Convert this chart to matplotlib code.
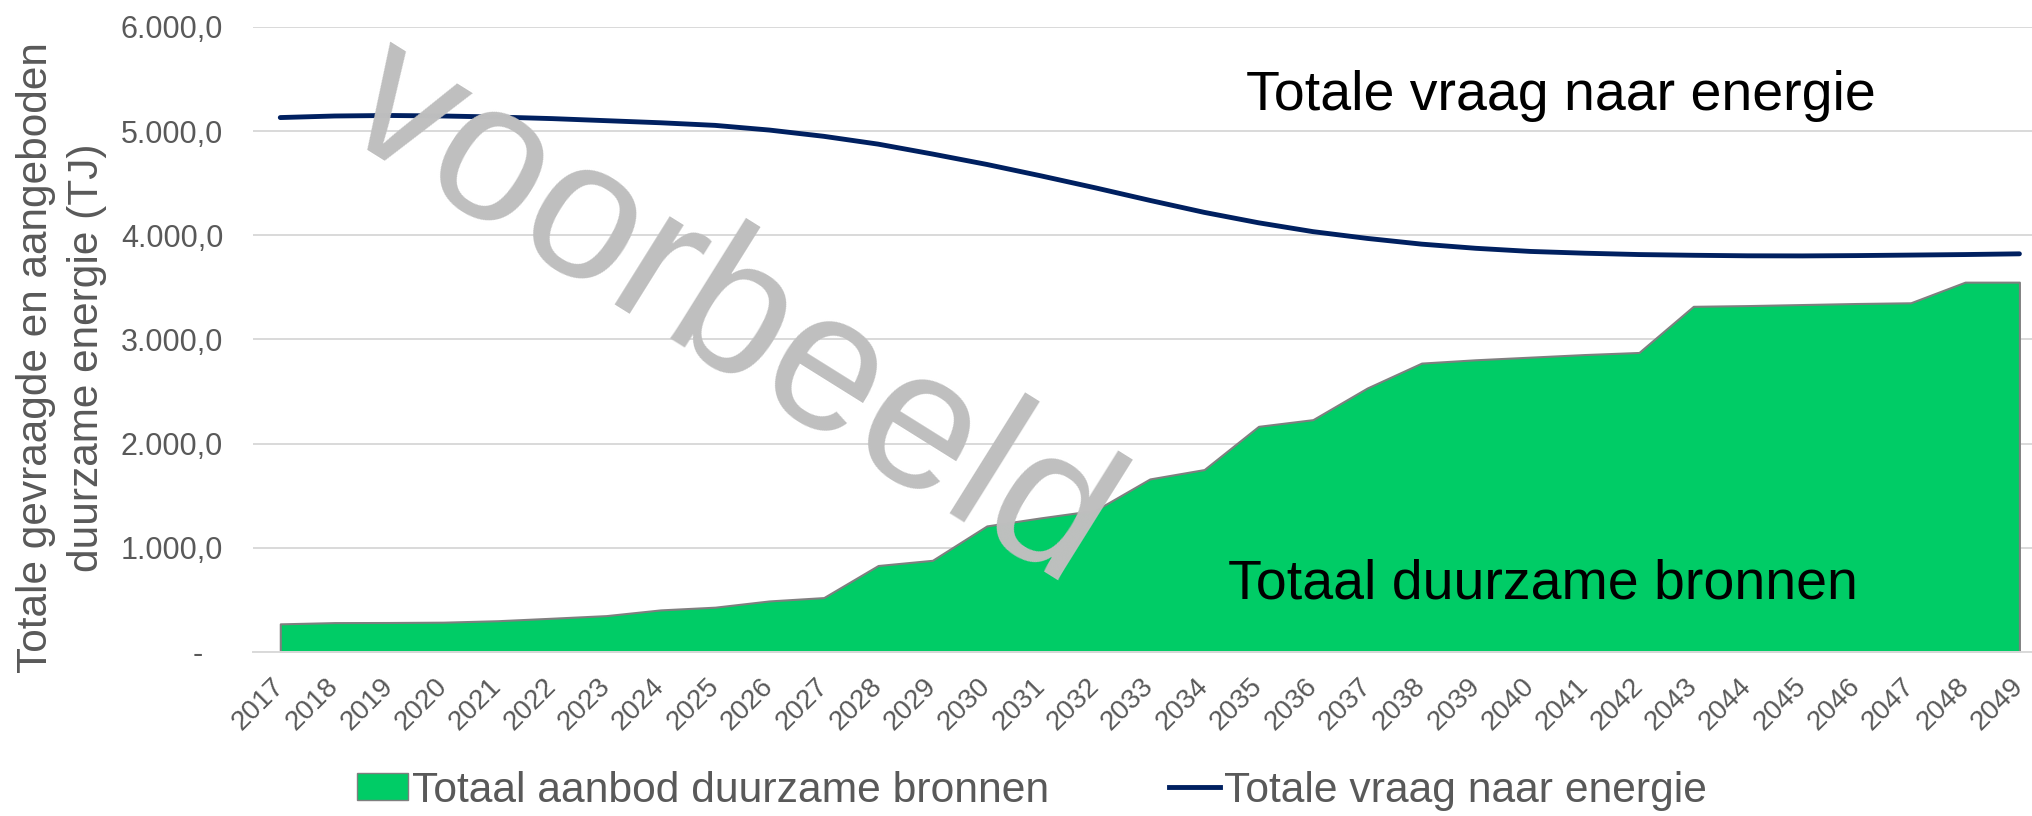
import matplotlib
matplotlib.use("Agg")
import matplotlib.pyplot as plt
import matplotlib.transforms as mtransforms
from matplotlib.patches import Patch
from matplotlib.lines import Line2D

plt.rcParams['font.family'] = ['Liberation Sans', 'DejaVu Sans']

# jaren op de x-as
years = list(range(2017, 2050))

# totaal aanbod duurzame bronnen (TJ)
supply = [270, 282, 283, 286, 300, 324, 349, 404, 430, 490, 522,
          830, 880, 1210, 1288, 1360, 1661, 1751, 2166, 2230, 2534,
          2773, 2805, 2830, 2855, 2875, 3318, 3325, 3335, 3345, 3352,
          3550, 3550]

# totale vraag naar energie (TJ)
demand = [5130, 5145, 5150, 5145, 5135, 5120, 5100, 5080, 5055, 5010,
          4950, 4875, 4780, 4680, 4570, 4455, 4335, 4220, 4120, 4035,
          3970, 3915, 3875, 3845, 3828, 3815, 3808, 3803, 3802, 3805,
          3810, 3815, 3822]

yticks = [0, 1000, 2000, 3000, 4000, 5000, 6000]
ytick_labels = ['-', '1.000,0', '2.000,0', '3.000,0', '4.000,0', '5.000,0', '6.000,0']

green = '#00CC66'
navy = '#002060'
grey_txt = '#595959'

fig = plt.figure(figsize=(20.33, 8.16), dpi=100)
ax = fig.add_axes([0.1245, 0.201, 0.8755, 0.766])

# gebied + lijn
ax.fill_between(years, supply, 0, facecolor=green, edgecolor='#7F7F7F',
                linewidth=1.5, zorder=2)
ax.plot(years, demand, color=navy, linewidth=3.5, solid_capstyle='round', zorder=3)

ax.set_xlim(2016.5, 2049.25)
ax.set_ylim(0, 6000)
ax.set_yticks(yticks)
ax.set_yticklabels(ytick_labels, fontsize=22, color=grey_txt)
ax.set_xticks(years)
ax.set_xticklabels([str(y) for y in years], fontsize=20, color=grey_txt,
                   rotation=45, ha='right', va='center', rotation_mode='anchor')
ax.tick_params(axis='both', length=0)
ax.tick_params(axis='y', pad=21.5)
ax.tick_params(axis='x', pad=22)

# streepje bij nul iets naar links, zoals in Excel
zero_lbl = ax.get_yticklabels()[0]
zero_lbl.set_transform(zero_lbl.get_transform() +
                       mtransforms.ScaledTranslation(-0.2, 0, fig.dpi_scale_trans))

ax.grid(axis='y', color='#D9D9D9', linewidth=1.4, zorder=0)
ax.set_axisbelow(True)
for side in ['top', 'right', 'left']:
    ax.spines[side].set_visible(False)
ax.spines['bottom'].set_color('#D9D9D9')
ax.spines['bottom'].set_linewidth(1.4)

# as-titel in twee regels
fig.text(36 / 2033, 1 - 358 / 816, 'Totale gevraagde en aangeboden', rotation=90,
         ha='center', va='center', fontsize=30.5, color=grey_txt)
fig.text(87 / 2033, 1 - 358 / 816, 'duurzame energie (TJ)', rotation=90,
         ha='center', va='center', fontsize=30.5, color=grey_txt)

# labels in de grafiek
ax.text(2040.56, 5203, 'Totale vraag naar energie', fontsize=40, color='black',
        ha='center', va='baseline', zorder=5)
ax.text(2040.23, 518, 'Totaal duurzame bronnen', fontsize=40, color='black',
        ha='center', va='baseline', zorder=5)

# watermerk
fig.text(701 / 2033, 1 - 359 / 816, 'voorbeeld', fontsize=142, color='#BFBFBF',
         rotation=-32, rotation_mode='anchor', ha='center', va='baseline', zorder=10)

handles = [Patch(facecolor=green, edgecolor='#7F7F7F', linewidth=1.0),
           Line2D([0], [0], color=navy, linewidth=3.5)]
fig.legend(handles, ['Totaal aanbod duurzame bronnen', 'Totale vraag naar energie'],
           loc='center', bbox_to_anchor=(0.5075, 0.031), ncol=2, frameon=False,
           fontsize=30.7, labelcolor=grey_txt, handlelength=1.2, handleheight=0.6,
           handletextpad=0.1, columnspacing=2.8, borderaxespad=0, borderpad=0)

fig.savefig('out.png', dpi=100)
